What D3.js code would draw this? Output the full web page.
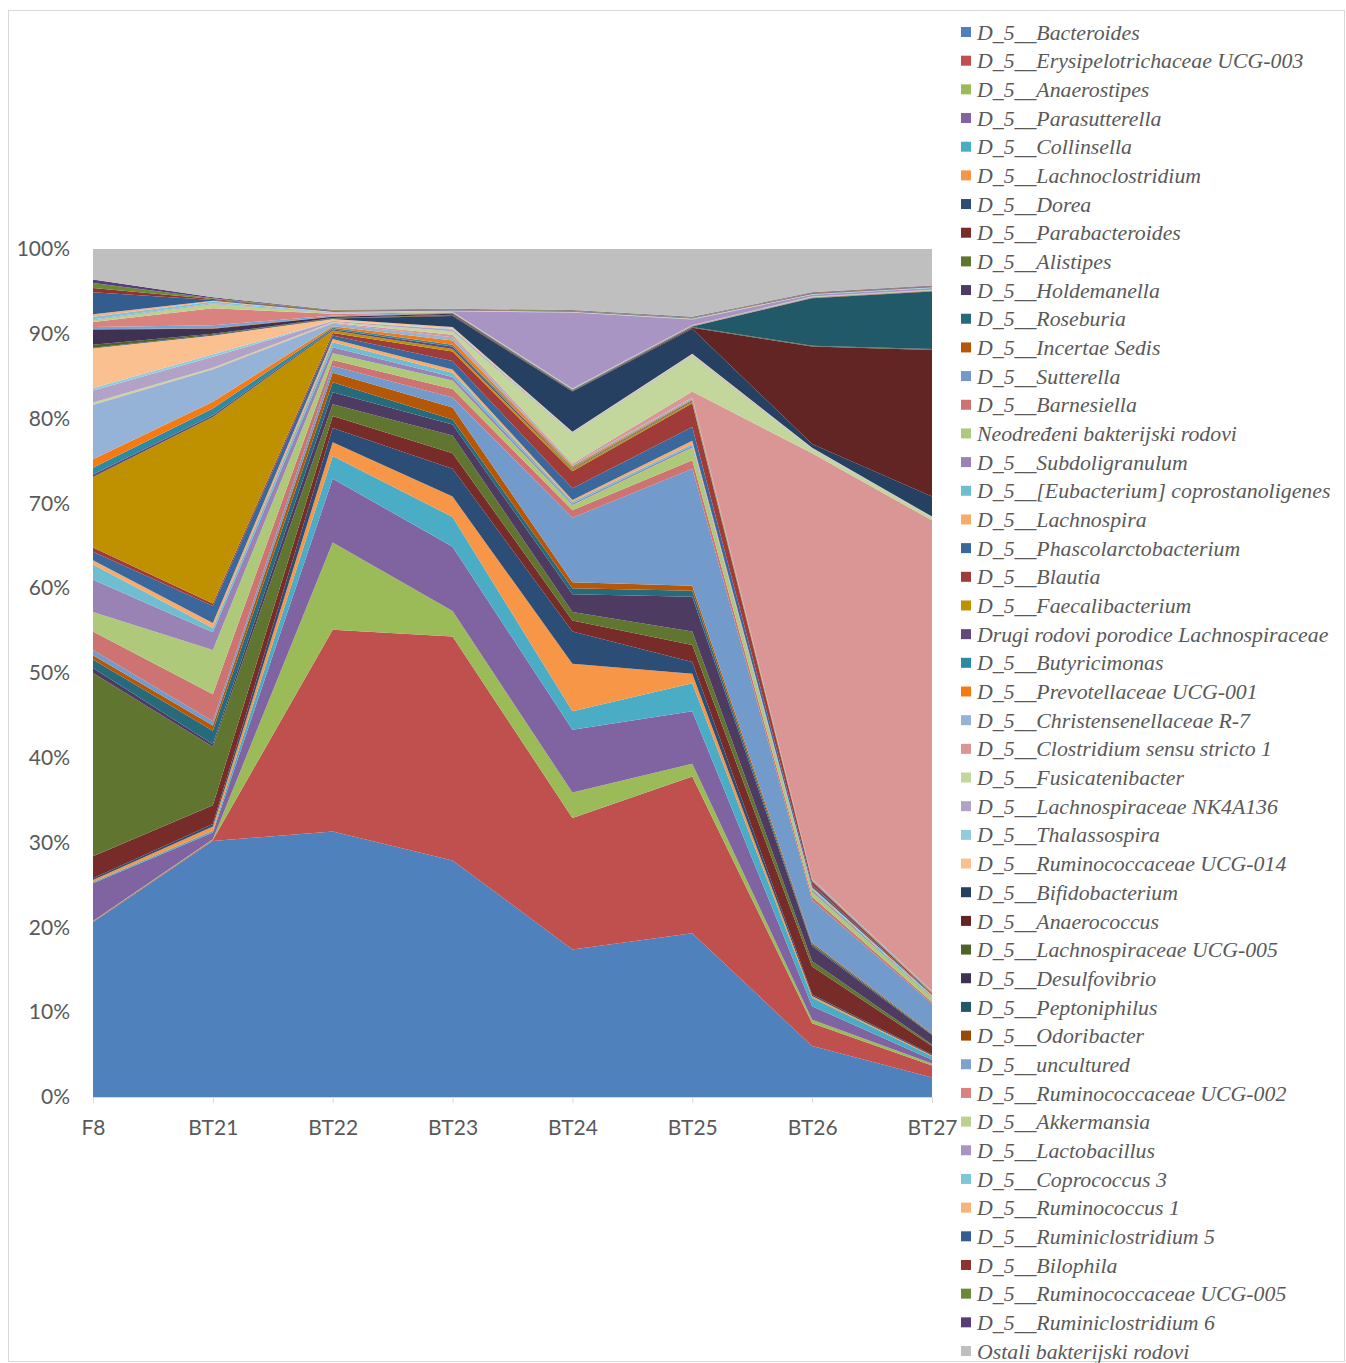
<!DOCTYPE html>
<html><head><meta charset="utf-8">
<script src="https://cdn.jsdelivr.net/npm/d3@7"></script>
<style>body{margin:0;background:#fff}svg{display:block}</style>
</head><body>
<svg id="chart" width="1346" height="1363"></svg>
<script>
const categories = ["F8","BT21","BT22","BT23","BT24","BT25","BT26","BT27"];
const yTickLabels = ["0%","10%","20%","30%","40%","50%","60%","70%","80%","90%","100%"];

const seriesNames = [
"D_5__Bacteroides","D_5__Erysipelotrichaceae UCG-003","D_5__Anaerostipes","D_5__Parasutterella",
"D_5__Collinsella","D_5__Lachnoclostridium","D_5__Dorea","D_5__Parabacteroides","D_5__Alistipes",
"D_5__Holdemanella","D_5__Roseburia","D_5__Incertae Sedis","D_5__Sutterella","D_5__Barnesiella",
"Neodređeni bakterijski rodovi","D_5__Subdoligranulum","D_5__[Eubacterium] coprostanoligenes",
"D_5__Lachnospira","D_5__Phascolarctobacterium","D_5__Blautia","D_5__Faecalibacterium",
"Drugi rodovi porodice Lachnospiraceae","D_5__Butyricimonas","D_5__Prevotellaceae UCG-001",
"D_5__Christensenellaceae R-7","D_5__Clostridium sensu stricto 1","D_5__Fusicatenibacter",
"D_5__Lachnospiraceae NK4A136","D_5__Thalassospira","D_5__Ruminococcaceae UCG-014",
"D_5__Bifidobacterium","D_5__Anaerococcus","D_5__Lachnospiraceae UCG-005","D_5__Desulfovibrio",
"D_5__Peptoniphilus","D_5__Odoribacter","D_5__uncultured","D_5__Ruminococcaceae UCG-002",
"D_5__Akkermansia","D_5__Lactobacillus","D_5__Coprococcus 3","D_5__Ruminococcus 1",
"D_5__Ruminiclostridium 5","D_5__Bilophila","D_5__Ruminococcaceae UCG-005","D_5__Ruminiclostridium 6",
"Ostali bakterijski rodovi"];

// values (%) per series, in category order F8..BT27
const bacteroides       = [20.6, 30.2, 31.3, 27.9, 17.4, 19.3, 6.0, 2.3];
const erysipelotrichaceae = [0.1, 0.1, 23.8, 26.4, 15.5, 18.5, 2.7, 1.4];
const anaerostipes      = [0.05, 0.1, 10.3, 3.0, 3.0, 1.5, 0.4, 0.25];
const parasutterella    = [4.45, 0.8, 7.5, 7.6, 7.4, 6.2, 1.6, 0.45];
const collinsella       = [0.15, 0.2, 2.7, 3.5, 2.2, 3.3, 1.0, 0.4];
const lachnoclostridium = [0.25, 0.5, 1.6, 2.4, 5.6, 1.1, 0.2, 0.1];
const dorea             = [0.2, 0.3, 1.7, 3.3, 3.8, 1.4, 0.2, 0.1];
const parabacteroides   = [2.6, 2.2, 1.4, 1.8, 1.3, 2.0, 3.3, 1.0];
const alistipes         = [21.6, 6.9, 1.4, 2.1, 1.0, 1.6, 0.6, 0.2];
const holdemanella      = [0.6, 0.3, 1.4, 1.3, 2.1, 4.1, 1.8, 1.1];
const roseburia         = [1.0, 1.6, 1.2, 0.6, 0.7, 0.7, 0.2, 0.1];
const incertaeSedis     = [0.5, 0.6, 1.1, 1.4, 0.7, 0.6, 0.2, 0.1];
const sutterella        = [0.6, 0.5, 0.8, 1.2, 7.6, 13.8, 5.0, 3.5];
const barnesiella       = [2.2, 3.2, 0.7, 1.0, 0.9, 1.0, 0.4, 0.2];
const neodredeni        = [2.3, 5.2, 0.8, 1.0, 0.6, 1.5, 0.6, 0.5];
const subdoligranulum   = [3.8, 2.1, 0.7, 0.4, 0.2, 0.2, 0.2, 0.1];
const eubacterium       = [1.8, 0.5, 0.6, 0.5, 0.2, 0.2, 0.15, 0.1];
const lachnospira       = [0.5, 0.6, 0.4, 0.4, 0.2, 0.4, 0.15, 0.1];
const phascolarctobacterium = [1.0, 2.0, 0.4, 1.0, 1.4, 1.6, 0.3, 0.1];
const blautia           = [0.5, 0.3, 0.3, 1.1, 2.0, 2.8, 0.4, 0.1];
const faecalibacterium  = [8.3, 22.0, 0.3, 0.3, 0.2, 0.2, 0.05, 0.05];
const drugiRodovi       = [0.3, 0.2, 0.15, 0.3, 0.1, 0.1, 0.05, 0.05];
const butyricimonas     = [0.8, 0.8, 0.15, 0.2, 0.1, 0.1, 0.05, 0.05];
const prevotellaceae    = [1.0, 0.8, 0.2, 0.5, 0.2, 0.1, 0.05, 0.05];
const christensenellaceae = [6.4, 3.8, 0.3, 0.4, 0.2, 0.2, 0.1, 0.1];
const clostridium       = [0.05, 0.05, 0.1, 0.3, 0.1, 0.7, 50.2, 55.5];
const fusicatenibacter  = [0.25, 0.15, 0.1, 0.4, 3.5, 4.2, 0.5, 0.3];
const lachnoNK4A136     = [1.4, 1.3, 0.1, 0.2, 0.1, 0.1, 0.05, 0.05];
const thalassospira     = [0.3, 0.3, 0.05, 0.1, 0.05, 0.05, 0.05, 0.05];
const ruminoUCG014      = [4.7, 2.2, 0.2, 0.2, 0.1, 0.1, 0.05, 0.05];
const bifidobacterium   = [0.05, 0.1, 0.05, 1.3, 4.75, 2.95, 0.45, 2.35];
const anaerococcus      = [0, 0, 0, 0.1, 0.05, 0.1, 11.5, 17.3];
const lachnoUCG005      = [0.35, 0.1, 0.05, 0.05, 0.05, 0.05, 0.05, 0.05];
const desulfovibrio     = [1.8, 0.6, 0.15, 0.1, 0.05, 0.05, 0.05, 0.05];
const peptoniphilus     = [0, 0, 0, 0.05, 0.05, 0.05, 5.6, 6.8];
const odoribacter       = [0.05, 0.05, 0.05, 0.05, 0, 0.05, 0.05, 0.05];
const uncultured        = [0.25, 0.35, 0.1, 0.05, 0.05, 0.05, 0.05, 0.05];
const ruminoUCG002      = [0.6, 2.0, 0.2, 0.05, 0.05, 0.05, 0.05, 0.05];
const akkermansia       = [0.2, 0.5, 0.1, 0.05, 0.05, 0.05, 0.05, 0.05];
const lactobacillus     = [0.1, 0.1, 0.05, 0.05, 8.95, 0.65, 0.2, 0.2];
const coprococcus3      = [0.3, 0.2, 0.05, 0.05, 0.05, 0.05, 0.05, 0.05];
const ruminococcus1     = [0.3, 0.1, 0.05, 0.05, 0.05, 0.05, 0.05, 0.05];
const ruminiclostridium5 = [2.6, 0.1, 0.1, 0.05, 0.05, 0.05, 0.05, 0.05];
const bilophila         = [0.5, 0.1, 0.05, 0.05, 0.05, 0.05, 0.05, 0.05];
const ruminoUCG005      = [0.6, 0.1, 0.05, 0.05, 0.05, 0.05, 0.05, 0.05];
const ruminiclostridium6 = [0.4, 0.1, 0.05, 0.05, 0.05, 0.05, 0.05, 0.05];
const ostali            = [3.6, 5.7, 7.15, 7.05, 7.2, 8.0, 5.1, 4.3];

const seriesValues = [bacteroides, erysipelotrichaceae, anaerostipes, parasutterella, collinsella,
 lachnoclostridium, dorea, parabacteroides, alistipes, holdemanella, roseburia, incertaeSedis,
 sutterella, barnesiella, neodredeni, subdoligranulum, eubacterium, lachnospira, phascolarctobacterium,
 blautia, faecalibacterium, drugiRodovi, butyricimonas, prevotellaceae, christensenellaceae, clostridium,
 fusicatenibacter, lachnoNK4A136, thalassospira, ruminoUCG014, bifidobacterium, anaerococcus,
 lachnoUCG005, desulfovibrio, peptoniphilus, odoribacter, uncultured, ruminoUCG002, akkermansia,
 lactobacillus, coprococcus3, ruminococcus1, ruminiclostridium5, bilophila, ruminoUCG005,
 ruminiclostridium6, ostali];

const colors = ["#4F81BD","#C0504D","#9BBB59","#8064A2","#4BACC6","#F79646",
"#2C4D75","#772C2A","#5F7530","#4D3B62","#276A7C","#B65708",
"#729ACA","#CD7371","#AFC97A","#9983B5","#6FBDD1","#F9AB6B",
"#3A679C","#9F3B38","#BF9000","#604A7B","#2E8AA0","#F57A13",
"#95B3D7","#D99694","#C3D69B","#B3A2C7","#93CDDD","#FAC090",
"#254061","#632523","#4F6228","#3F3151","#215968","#984807",
"#7EA1D0","#D98280","#BCD18E","#A895C3","#7FC5D8","#F8B27D",
"#335C8F","#8E3330","#6B8A37","#563F78","#BFBFBF"];

const svg = d3.select("#chart");
const W = 1346, H = 1363;
svg.append("rect").attr("x",8.5).attr("y",10.5).attr("width",W-10).attr("height",H-12)
  .attr("fill","#fff").attr("stroke","#D9D9D9");

const x0 = 93, x1 = 932, yTop = 249, yBot = 1097;
const x = d3.scalePoint().domain(categories).range([x0, x1]);
const y = d3.scaleLinear().domain([0, 1]).range([yBot, yTop]);

const keys = seriesNames;
const rows = categories.map((c, i) => {
  const r = {cat: c};
  keys.forEach((k, j) => r[k] = seriesValues[j][i]);
  return r;
});
const stacked = d3.stack().keys(keys).offset(d3.stackOffsetExpand)(rows);

const area = d3.area()
  .x(d => x(d.data.cat))
  .y0(d => y(d[0]))
  .y1(d => y(d[1]));

svg.append("g").selectAll("path").data(stacked).join("path")
  .attr("d", area)
  .attr("fill", (d, i) => colors[i]);

const axisFont = "Lato, 'Open Sans', sans-serif";
// x axis
const xAxis = svg.append("g").attr("transform", `translate(0,${yBot})`)
  .call(d3.axisBottom(x).tickSize(6).tickPadding(17));
xAxis.select(".domain").attr("stroke","#D9D9D9").attr("stroke-width",1);
xAxis.selectAll(".tick line").attr("stroke","#D9D9D9");
xAxis.selectAll("text").attr("font-family",axisFont).attr("font-size",21).attr("fill","#595959");

// y axis
const yAxis = svg.append("g").attr("transform", `translate(${x0},0)`)
  .call(d3.axisLeft(y).tickValues(d3.range(0, 1.0001, 0.1)).tickSize(0).tickPadding(23)
    .tickFormat((d, i) => yTickLabels[i]));
yAxis.select(".domain").remove();
yAxis.selectAll("text").attr("font-family",axisFont).attr("font-size",21).attr("fill","#595959");

// legend
const lg = svg.append("g");
const ly0 = 32, lstep = (1351 - 32) / 46;
seriesNames.forEach((n, i) => {
  const cy = ly0 + i * lstep;
  lg.append("rect").attr("x", 961).attr("y", cy - 5).attr("width", 10).attr("height", 10).attr("fill", colors[i]);
  lg.append("text").attr("x", 977).attr("y", cy).attr("dy", "0.35em")
    .attr("font-family", "'Liberation Serif', 'DejaVu Serif', serif").attr("font-style", "italic")
    .attr("font-size", 21.8).attr("fill", "#595959").text(n);
});
</script>
</body></html>
